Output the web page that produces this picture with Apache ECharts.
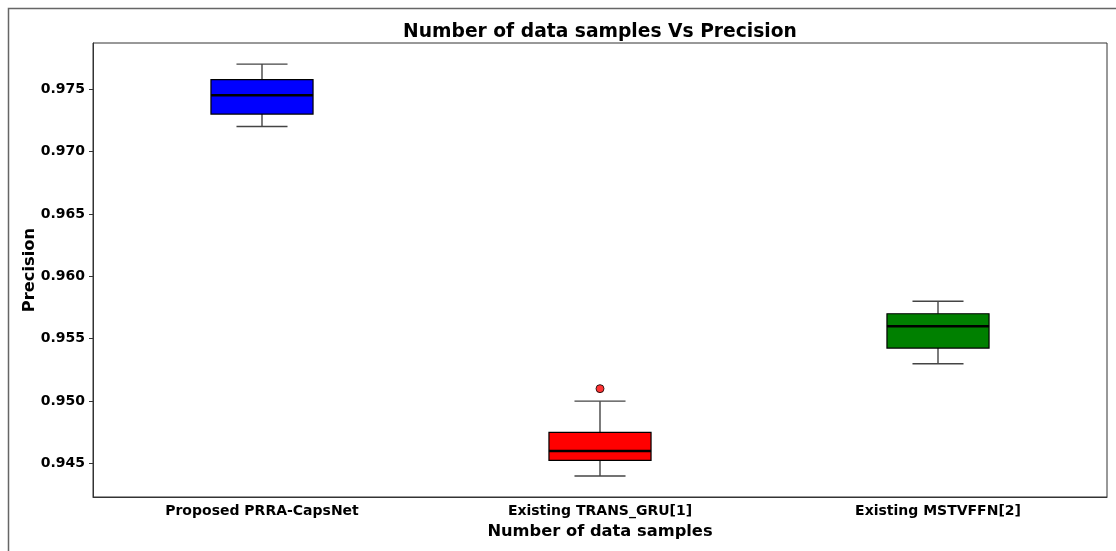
<!DOCTYPE html>
<html><head><meta charset="utf-8">
<script src="https://cdn.jsdelivr.net/npm/echarts@6/dist/echarts.min.js"></script>
<style>html,body{margin:0;padding:0;background:#fff}#c{width:1116px;height:551px}</style>
</head><body><div id="c"></div>
<script>
const categories = ['Proposed PRRA-CapsNet', 'Existing TRANS_GRU[1]', 'Existing MSTVFFN[2]'];
const lowWhisker = [0.972, 0.944, 0.953];
const q1 = [0.973, 0.94525, 0.95425];
const median = [0.9745, 0.946, 0.956];
const q3 = [0.97575, 0.9475, 0.957];
const highWhisker = [0.977, 0.950, 0.958];
const outliers = [[1, 0.951]];
const boxColors = ['#0000ff', '#ff0000', '#008000'];
const yTicks = [0.945, 0.950, 0.955, 0.960, 0.965, 0.970, 0.975];

const font = 'DejaVu Sans';
const chart = echarts.init(document.getElementById('c'));
const boxData = categories.map((c, i) => [i, lowWhisker[i], q1[i], median[i], q3[i], highWhisker[i]]);

chart.setOption({
  animation: false,
  backgroundColor: '#fff',
  title: {
    text: 'Number of data samples Vs Precision',
    left: 595, top: 18, textAlign: 'center',
    textStyle: { fontFamily: font, fontWeight: 'bold', fontSize: 18.7, color: '#000' }
  },
  graphic: [{
    type: 'rect', silent: true, z: -1,
    shape: { x: 8.5, y: 8.5, width: 1200, height: 700 },
    style: { fill: 'none', stroke: '#666', lineWidth: 1.5 }
  }],
  grid: { left: 93, right: 9, top: 43, bottom: 54, show: true, borderColor: '#333', borderWidth: 1, backgroundColor: 'transparent' },
  xAxis: {
    type: 'category', data: categories, boundaryGap: true,
    name: 'Number of data samples', nameLocation: 'middle', nameGap: 27, nameMoveOverlap: false,
    nameTextStyle: { fontFamily: font, fontWeight: 'bold', fontSize: 16.3, color: '#000' },
    axisLine: { lineStyle: { color: '#333', width: 1 } },
    axisTick: { alignWithLabel: true, length: 4, lineStyle: { color: '#333' } },
    axisLabel: { fontFamily: font, fontWeight: 'bold', fontSize: 14, color: '#000', margin: 7 },
    splitLine: { show: false }
  },
  yAxis: {
    type: 'value', min: 0.94232, max: 0.97869,
    name: 'Precision', nameLocation: 'middle', nameGap: 55, nameMoveOverlap: false,
    nameTextStyle: { fontFamily: font, fontWeight: 'bold', fontSize: 16.3, color: '#000' },
    axisLine: { show: true, lineStyle: { color: '#333', width: 1 } },
    axisTick: { show: true, length: 4, customValues: yTicks, lineStyle: { color: '#333' } },
    axisLabel: { fontFamily: font, fontWeight: 'bold', fontSize: 14, color: '#000', margin: 8,
      customValues: yTicks, formatter: v => v.toFixed(3) },
    splitLine: { show: false }
  },
  series: [{
    type: 'custom',
    data: boxData,
    encode: { x: 0, y: [1, 2, 3, 4, 5] },
    renderItem: function (params, api) {
      const i = api.value(0);
      const band = api.size([1, 0])[0];
      const bw = band * 0.302;
      const cw = bw / 2;
      const pLow = api.coord([i, api.value(1)]);
      const pQ1 = api.coord([i, api.value(2)]);
      const pMed = api.coord([i, api.value(3)]);
      const pQ3 = api.coord([i, api.value(4)]);
      const pHigh = api.coord([i, api.value(5)]);
      const x = pMed[0];
      const wStyle = { stroke: '#444', lineWidth: 1.4 };
      return {
        type: 'group',
        children: [
          { type: 'line', shape: { x1: x, y1: pHigh[1], x2: x, y2: pQ3[1] }, style: wStyle },
          { type: 'line', shape: { x1: x, y1: pLow[1], x2: x, y2: pQ1[1] }, style: wStyle },
          { type: 'line', shape: { x1: x - cw / 2, y1: pHigh[1], x2: x + cw / 2, y2: pHigh[1] }, style: wStyle },
          { type: 'line', shape: { x1: x - cw / 2, y1: pLow[1], x2: x + cw / 2, y2: pLow[1] }, style: wStyle },
          { type: 'rect', shape: { x: x - bw / 2, y: pQ3[1], width: bw, height: pQ1[1] - pQ3[1] },
            style: { fill: boxColors[i], stroke: '#000', lineWidth: 1.2 } },
          { type: 'line', shape: { x1: x - bw / 2, y1: pMed[1], x2: x + bw / 2, y2: pMed[1] },
            style: { stroke: '#000', lineWidth: 2.4 } }
        ]
      };
    }
  }, {
    type: 'scatter',
    data: outliers,
    symbol: 'circle', symbolSize: 8,
    itemStyle: { color: '#ff0000', borderColor: '#000', borderWidth: 1 }
  }]
});
</script></body></html>
